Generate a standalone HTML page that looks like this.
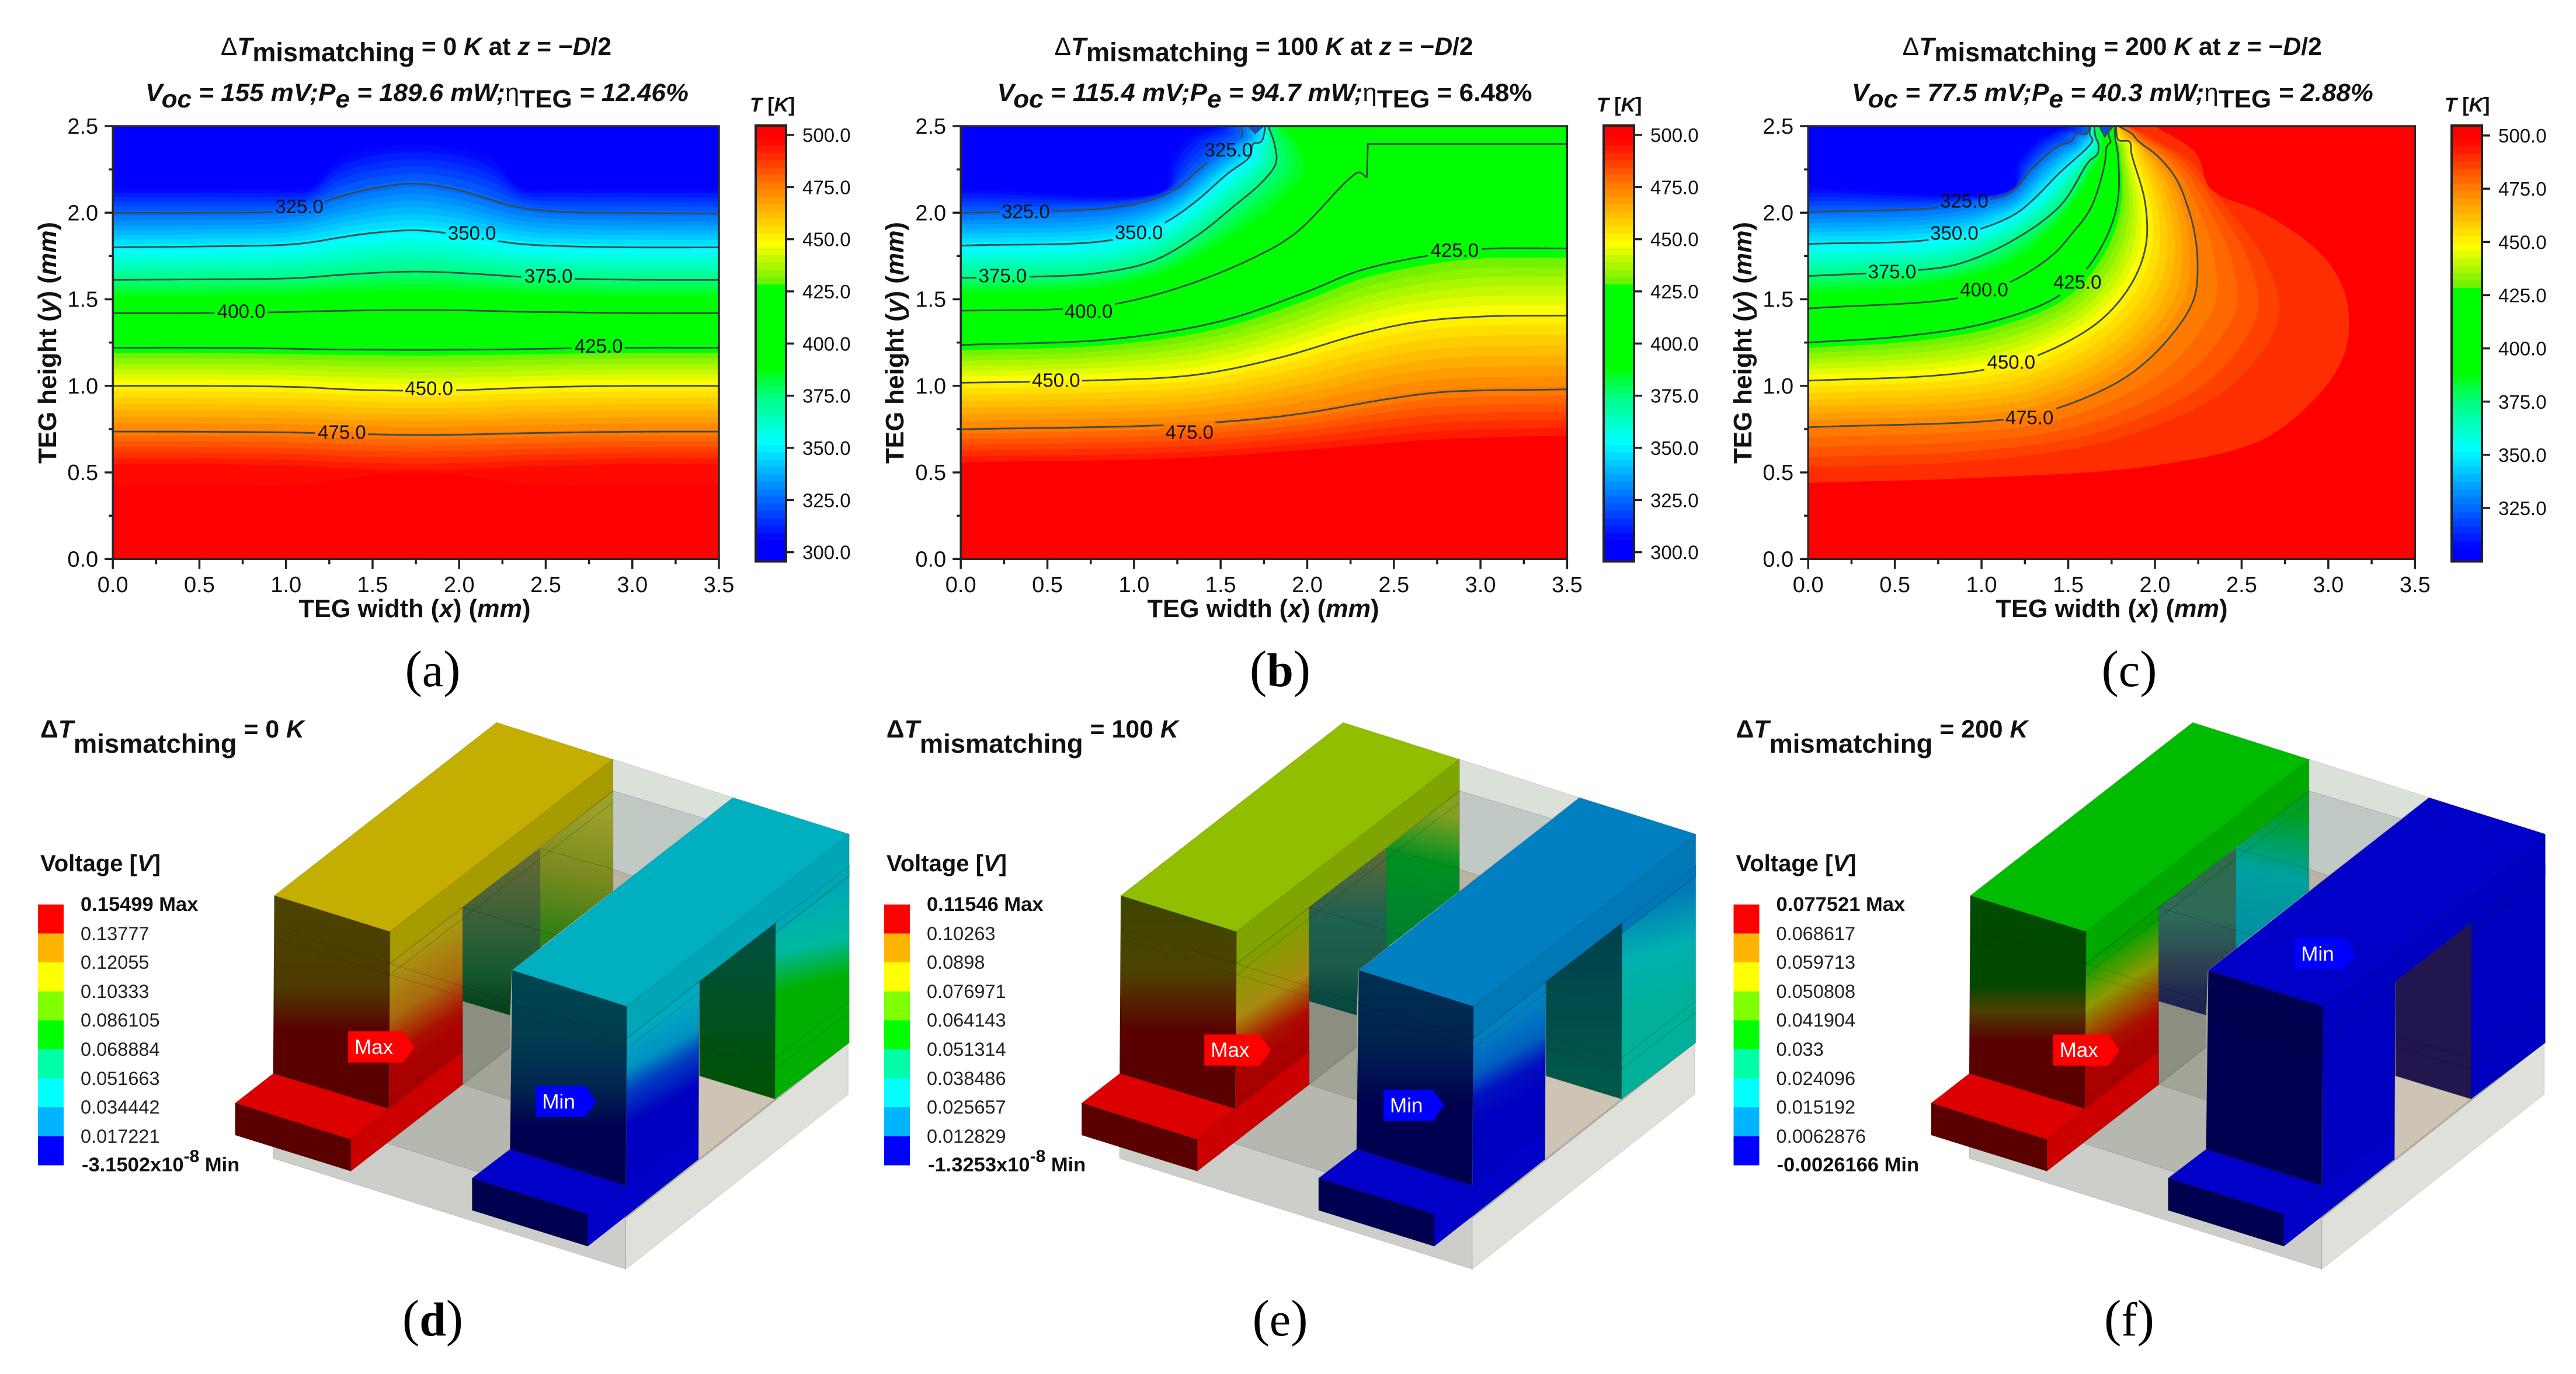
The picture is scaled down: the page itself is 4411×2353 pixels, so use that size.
<!DOCTYPE html>
<html lang="en">
<head>
<meta charset="utf-8">
<title>TEG temperature and voltage distributions</title>
<style>
html,body{margin:0;padding:0;background:#fff}
svg{display:block}
text{font-family:"Liberation Sans",sans-serif;fill:#111}
.b{font-weight:bold}
.i{font-style:italic}
.title{font-weight:bold;font-size:42.5px}
.axt{font-weight:bold;font-size:43.5px}
.tag{font-size:76px}
.cap{font-family:"Liberation Serif",serif;font-size:88px;fill:#000}
.leg{font-size:32.5px;fill:#222}
.legb{font-size:34.5px;font-weight:bold;fill:#111}
.vt{font-weight:bold;font-size:40px}
</style>
</head>
<body>
<svg id="figure" xmlns="http://www.w3.org/2000/svg" width="4411" height="2353" viewBox="0 0 4411 2353">
<defs id="defs"><rect id="unused" width="0" height="0"/></defs>
<rect width="4411" height="2353" fill="#fff"/>

<g id="panel-a"></g>
<g id="panel-b"></g>
<g id="panel-c"></g>

<g id="model-d" transform="matrix(0.9567,0,0,0.7526,0,1180)"></g>
<g id="model-e" transform="matrix(0.9567,0,0,0.7526,1449.5,1180)"></g>
<g id="model-f" transform="matrix(0.9567,0,0,0.7526,2904.2,1180)"></g>
<g id="overlays"></g>

<!-- Panel a titles -->
<text class="title" x="378" y="94" textLength="669" lengthAdjust="spacingAndGlyphs"><tspan font-weight="normal">Δ</tspan><tspan class="i">T</tspan><tspan dy="11" font-size="45">mismatching</tspan><tspan dy="-11"> = 0 </tspan><tspan class="i">K</tspan> at <tspan class="i">z</tspan> = −<tspan class="i">D</tspan>/2</text>
<text class="title" x="249" y="173" textLength="930" lengthAdjust="spacingAndGlyphs"><tspan class="i">V</tspan><tspan class="i" dy="11">oc</tspan><tspan class="i" dy="-11"> = 155 mV;P</tspan><tspan class="i" dy="11">e</tspan><tspan class="i" dy="-11"> = 189.6 mW;</tspan><tspan font-weight="normal">η</tspan><tspan dy="11">TEG</tspan><tspan class="i" dy="-11"> = 12.46%</tspan></text>
<text class="axt" text-anchor="middle" x="96" y="587" transform="rotate(-90 96 587)" textLength="414" lengthAdjust="spacingAndGlyphs">TEG height (<tspan class="i">y</tspan>) (<tspan class="i">mm</tspan>)</text>
<text class="axt" text-anchor="middle" x="710" y="1057" textLength="397" lengthAdjust="spacingAndGlyphs">TEG width (<tspan class="i">x</tspan>) (<tspan class="i">mm</tspan>)</text>
<text x="1284" y="191" font-size="34" font-weight="bold"><tspan class="i">T</tspan> [<tspan class="i">K</tspan>]</text>
<text class="cap" text-anchor="middle" x="741" y="1175">(<tspan font-size="82">a</tspan>)</text>

<!-- Panel b titles -->
<text class="title" x="1805.6" y="94" textLength="717" lengthAdjust="spacingAndGlyphs"><tspan font-weight="normal">Δ</tspan><tspan class="i">T</tspan><tspan dy="11" font-size="45">mismatching</tspan><tspan dy="-11"> = 100 </tspan><tspan class="i">K</tspan> at <tspan class="i">z</tspan> = −<tspan class="i">D</tspan>/2</text>
<text class="title" x="1707.5" y="173" textLength="916" lengthAdjust="spacingAndGlyphs"><tspan class="i">V</tspan><tspan class="i" dy="11">oc</tspan><tspan class="i" dy="-11"> = 115.4 mV;P</tspan><tspan class="i" dy="11">e</tspan><tspan class="i" dy="-11"> = 94.7 mW;</tspan><tspan font-weight="normal">η</tspan><tspan dy="11">TEG</tspan><tspan dy="-11"> = 6.48%</tspan></text>
<text class="axt" text-anchor="middle" x="1547" y="587" transform="rotate(-90 1547 587)" textLength="414" lengthAdjust="spacingAndGlyphs">TEG height (<tspan class="i">y</tspan>) (<tspan class="i">mm</tspan>)</text>
<text class="axt" text-anchor="middle" x="2163" y="1057" textLength="397" lengthAdjust="spacingAndGlyphs">TEG width (<tspan class="i">x</tspan>) (<tspan class="i">mm</tspan>)</text>
<text x="2734" y="191" font-size="34" font-weight="bold"><tspan class="i">T</tspan> [<tspan class="i">K</tspan>]</text>
<text class="cap" text-anchor="middle" x="2192" y="1175">(<tspan font-size="82" font-weight="bold">b</tspan>)</text>

<!-- Panel c titles -->
<text class="title" x="3257.8" y="94" textLength="718" lengthAdjust="spacingAndGlyphs"><tspan font-weight="normal">Δ</tspan><tspan class="i">T</tspan><tspan dy="11" font-size="45">mismatching</tspan><tspan dy="-11"> = 200 </tspan><tspan class="i">K</tspan> at <tspan class="i">z</tspan> = −<tspan class="i">D</tspan>/2</text>
<text class="title" x="3170.9" y="173" textLength="893" lengthAdjust="spacingAndGlyphs"><tspan class="i">V</tspan><tspan class="i" dy="11">oc</tspan><tspan class="i" dy="-11"> = 77.5 mV;P</tspan><tspan class="i" dy="11">e</tspan><tspan class="i" dy="-11"> = 40.3 mW;</tspan><tspan font-weight="normal">η</tspan><tspan dy="11">TEG</tspan><tspan class="i" dy="-11"> = 2.88%</tspan></text>
<text class="axt" text-anchor="middle" x="2999" y="587" transform="rotate(-90 2999 587)" textLength="414" lengthAdjust="spacingAndGlyphs">TEG height (<tspan class="i">y</tspan>) (<tspan class="i">mm</tspan>)</text>
<text class="axt" text-anchor="middle" x="3616" y="1057" textLength="397" lengthAdjust="spacingAndGlyphs">TEG width (<tspan class="i">x</tspan>) (<tspan class="i">mm</tspan>)</text>
<text x="4186" y="191" font-size="34" font-weight="bold"><tspan class="i">T</tspan> [<tspan class="i">K</tspan>]</text>
<text class="cap" text-anchor="middle" x="3646" y="1175">(<tspan font-size="82">c</tspan>)</text>

<!-- Panel d text -->
<text class="title" x="69" y="1263" textLength="452" lengthAdjust="spacingAndGlyphs">Δ<tspan class="i">T</tspan><tspan dy="26" font-size="45">mismatching</tspan><tspan dy="-26"> = 0 </tspan><tspan class="i">K</tspan></text>
<text class="vt" x="69" y="1492">Voltage [<tspan class="i">V</tspan>]</text>
<g>
<text class="legb" x="138" y="1560">0.15499 Max</text>
<text class="leg" x="138" y="1610">0.13777</text>
<text class="leg" x="138" y="1659">0.12055</text>
<text class="leg" x="138" y="1709">0.10333</text>
<text class="leg" x="138" y="1758">0.086105</text>
<text class="leg" x="138" y="1808">0.068884</text>
<text class="leg" x="138" y="1858">0.051663</text>
<text class="leg" x="138" y="1907">0.034442</text>
<text class="leg" x="138" y="1957">0.017221</text>
<text class="legb" x="140" y="2006">-3.1502x10<tspan dy="-16" font-size="30">-8</tspan><tspan dy="16"> Min</tspan></text>
</g>
<text class="cap" text-anchor="middle" x="741" y="2287">(<tspan font-size="82" font-weight="bold">d</tspan>)</text>

<!-- Panel e text -->
<text class="title" x="1517.8" y="1263" textLength="500" lengthAdjust="spacingAndGlyphs">Δ<tspan class="i">T</tspan><tspan dy="26" font-size="45">mismatching</tspan><tspan dy="-26"> = 100 </tspan><tspan class="i">K</tspan></text>
<text class="vt" x="1518" y="1492">Voltage [<tspan class="i">V</tspan>]</text>
<g>
<text class="legb" x="1587" y="1560">0.11546 Max</text>
<text class="leg" x="1587" y="1610">0.10263</text>
<text class="leg" x="1587" y="1659">0.0898</text>
<text class="leg" x="1587" y="1709">0.076971</text>
<text class="leg" x="1587" y="1758">0.064143</text>
<text class="leg" x="1587" y="1808">0.051314</text>
<text class="leg" x="1587" y="1858">0.038486</text>
<text class="leg" x="1587" y="1907">0.025657</text>
<text class="leg" x="1587" y="1957">0.012829</text>
<text class="legb" x="1589" y="2006">-1.3253x10<tspan dy="-16" font-size="30">-8</tspan><tspan dy="16"> Min</tspan></text>
</g>
<text class="cap" text-anchor="middle" x="2192" y="2287">(<tspan font-size="82">e</tspan>)</text>

<!-- Panel f text -->
<text class="title" x="2972.5" y="1263" textLength="500" lengthAdjust="spacingAndGlyphs">Δ<tspan class="i">T</tspan><tspan dy="26" font-size="45">mismatching</tspan><tspan dy="-26"> = 200 </tspan><tspan class="i">K</tspan></text>
<text class="vt" x="2972.5" y="1492">Voltage [<tspan class="i">V</tspan>]</text>
<g>
<text class="legb" x="3041.5" y="1560">0.077521 Max</text>
<text class="leg" x="3041.5" y="1610">0.068617</text>
<text class="leg" x="3041.5" y="1659">0.059713</text>
<text class="leg" x="3041.5" y="1709">0.050808</text>
<text class="leg" x="3041.5" y="1758">0.041904</text>
<text class="leg" x="3041.5" y="1808">0.033</text>
<text class="leg" x="3041.5" y="1858">0.024096</text>
<text class="leg" x="3041.5" y="1907">0.015192</text>
<text class="leg" x="3041.5" y="1957">0.0062876</text>
<text class="legb" x="3042.5" y="2006">-0.0026166 Min</text>
</g>
<text class="cap" text-anchor="middle" x="3646" y="2287">(<tspan font-size="82">f</tspan>)</text>
</svg>

<script>
// ---------- chart data (millimetres / kelvin) ----------
const xTickValues = [0, 0.5, 1, 1.5, 2, 2.5, 3, 3.5];
const yTickValues = [0, 0.5, 1, 1.5, 2, 2.5];
const xMinorTickValues = [0.25, 0.75, 1.25, 1.75, 2.25, 2.75, 3.25];
const yMinorTickValues = [0.25, 0.75, 1.25, 1.75, 2.25];
const barTicksAB = [500, 475, 450, 425, 400, 375, 350, 325, 300];
const barTicksC = [500, 475, 450, 425, 400, 375, 350, 325];

// Panel a: contour height at each width
const aWidths = [0, 0.5, 1, 1.15, 1.3, 1.5, 1.75, 2, 2.2, 2.35, 2.6, 3, 3.5];
const a306 = [2.14, 2.14, 2.14, 2.15, 2.30, 2.37, 2.39, 2.37, 2.30, 2.15, 2.14, 2.14, 2.14];
const a325 = [2.0, 2.0, 2.01, 2.04, 2.09, 2.14, 2.168, 2.13, 2.07, 2.03, 2.005, 2.0, 1.995];
const a350 = [1.80, 1.805, 1.815, 1.83, 1.855, 1.883, 1.898, 1.873, 1.84, 1.82, 1.807, 1.80, 1.80];
const a375 = [1.612, 1.615, 1.62, 1.628, 1.64, 1.652, 1.66, 1.652, 1.64, 1.63, 1.62, 1.613, 1.612];
const a400 = [1.42, 1.42, 1.426, 1.43, 1.433, 1.436, 1.437, 1.436, 1.432, 1.428, 1.425, 1.42, 1.42];
const a425 = [1.22, 1.22, 1.215, 1.212, 1.21, 1.209, 1.208, 1.209, 1.21, 1.212, 1.216, 1.22, 1.22];
const a450 = [1.0, 1.0, 0.995, 0.99, 0.982, 0.975, 0.972, 0.975, 0.982, 0.988, 0.995, 1.0, 1.0];
const a475 = [0.736, 0.735, 0.731, 0.728, 0.724, 0.72, 0.716, 0.718, 0.722, 0.726, 0.73, 0.735, 0.736];
const a496 = [0.54, 0.54, 0.53, 0.525, 0.515, 0.51, 0.505, 0.51, 0.515, 0.525, 0.53, 0.54, 0.54];
const a500 = [0.36, 0.36, 0.36, 0.38, 0.42, 0.47, 0.49, 0.47, 0.42, 0.38, 0.36, 0.36, 0.36];
const aLabels = [[325, 1.077, 2.036], [350, 2.074, 1.883], [375, 2.516, 1.635], [400, 0.742, 1.431], [425, 2.806, 1.231], [450, 1.826, 0.985], [475, 1.323, 0.733]];

// Panel b: contour points [x, y]
const b306 = [[0, 2.137], [1.18, 2.137], [1.21, 2.29], [1.32, 2.44], [1.5, 2.5]];
const b325 = [[0, 2.0], [0.525, 2.01], [0.875, 2.03], [1.1, 2.074], [1.24, 2.137], [1.406, 2.277], [1.55, 2.39], [1.62, 2.44], [1.62, 2.5]];
const b350 = [[0, 1.81], [0.875, 1.843], [1.16, 1.934], [1.35, 2.06], [1.54, 2.226], [1.67, 2.327], [1.686, 2.396], [1.734, 2.41], [1.76, 2.5]];
const b375 = [[0, 1.624], [0.4, 1.63], [0.78, 1.65], [1.1, 1.718], [1.35, 1.858], [1.575, 2.036], [1.75, 2.188], [1.82, 2.29], [1.81, 2.4], [1.775, 2.5]];
const b388 = [[0, 1.53], [0.78, 1.56], [1.2, 1.66], [1.6, 1.88], [1.85, 2.06], [2.0, 2.25], [1.95, 2.4], [1.85, 2.5]];
const b400 = [[0, 1.434], [0.59, 1.444], [0.875, 1.47], [1.257, 1.566], [1.67, 1.73], [1.93, 1.88], [2.24, 2.194], [2.30, 2.233], [2.344, 2.203]];
const b400Step = [[2.344, 2.203], [2.35, 2.397], [3.5, 2.397]];
const b425 = [[0, 1.236], [0.875, 1.27], [1.51, 1.376], [1.99, 1.54], [2.307, 1.667], [2.72, 1.756], [3.0, 1.79], [3.5, 1.794]];
const b450 = [[0, 1.018], [0.716, 1.03], [1.35, 1.063], [1.83, 1.16], [2.307, 1.3], [2.625, 1.368], [3.0, 1.40], [3.5, 1.406]];
const b475 = [[0, 0.749], [1.16, 0.772], [1.67, 0.805], [1.99, 0.843], [2.466, 0.924], [2.78, 0.964], [3.5, 0.98]];
const b496 = [[0, 0.55], [1.2, 0.57], [2.0, 0.62], [2.8, 0.68], [3.5, 0.70]];
const bPocket = [[1.66, 2.5], [1.70, 2.46], [1.745, 2.5]];
const bLabels = [[325, 0.375, 2.008], [325, 1.546, 2.363], [350, 1.028, 1.886], [375, 0.242, 1.637], [400, 0.738, 1.431], [425, 2.851, 1.784], [450, 0.55, 1.033], [475, 1.32, 0.733]];

// Panel c: contour points [x, y]
const c306 = [[0, 2.14], [1.18, 2.14], [1.2, 2.27], [1.32, 2.42], [1.5, 2.5]];
const c325 = [[0, 2.005], [0.76, 2.03], [1.03, 2.074], [1.174, 2.12], [1.292, 2.255], [1.44, 2.384], [1.518, 2.413], [1.545, 2.454], [1.607, 2.456], [1.62, 2.5]];
const c350 = [[0, 1.82], [0.697, 1.843], [1.0, 1.909], [1.19, 1.99], [1.292, 2.07], [1.45, 2.23], [1.618, 2.384], [1.64, 2.418], [1.623, 2.457], [1.63, 2.5]];
const c375 = [[0, 1.634], [0.62, 1.667], [0.87, 1.705], [1.19, 1.845], [1.46, 2.047], [1.618, 2.294], [1.669, 2.34], [1.674, 2.396], [1.657, 2.44], [1.65, 2.5]];
const c388 = [[0, 1.53], [0.7, 1.58], [1.19, 1.72], [1.45, 1.95], [1.62, 2.2], [1.7, 2.37], [1.7, 2.5]];
const c400 = [[0, 1.447], [0.87, 1.508], [1.174, 1.604], [1.41, 1.756], [1.522, 1.88], [1.629, 2.025], [1.708, 2.27], [1.724, 2.385], [1.745, 2.41], [1.735, 2.44], [1.73, 2.5]];
const c425 = [[0, 1.25], [0.554, 1.287], [1.03, 1.363], [1.43, 1.51], [1.6, 1.667], [1.73, 1.88], [1.787, 2.08], [1.787, 2.33], [1.77, 2.44], [1.77, 2.5]];
const c450 = [[0, 1.03], [0.713, 1.058], [1.03, 1.096], [1.317, 1.173], [1.667, 1.363], [1.858, 1.579], [1.947, 1.807], [1.943, 2.06], [1.865, 2.34], [1.854, 2.41], [1.79, 2.42], [1.775, 2.5]];
const c475 = [[0, 0.761], [1.126, 0.805], [1.413, 0.863], [1.826, 1.046], [2.08, 1.274], [2.224, 1.5], [2.246, 1.706], [2.229, 1.88], [2.19, 2.03], [2.124, 2.193], [2.02, 2.323], [1.905, 2.413], [1.865, 2.458], [1.79, 2.5]];
const c489 = [[0, 0.53], [1.0, 0.57], [1.8, 0.70], [2.4, 0.97], [2.65, 1.25], [2.72, 1.45], [2.62, 1.75], [2.4, 2.05], [2.2, 2.3], [2.0, 2.42], [1.85, 2.5]];
const c492 = [[0, 0.44], [1.0, 0.47], [1.985, 0.538], [2.62, 0.69], [2.94, 0.944], [3.08, 1.15], [3.12, 1.363], [3.08, 1.58], [2.94, 1.78], [2.62, 2.0], [2.32, 2.137], [2.24, 2.34], [2.0, 2.5]];
const cPocket = [[1.68, 2.5], [1.71, 2.44], [1.76, 2.5]];
const cLabels = [[325, 0.9, 2.069], [350, 0.843, 1.883], [375, 0.484, 1.66], [400, 1.015, 1.556], [425, 1.553, 1.599], [450, 1.171, 1.137], [475, 1.276, 0.817]];

// Colour scale stops of the temperature bar
const scaleTemps = [295, 306, 352.5, 375, 388.7, 428.4, 428.41, 448, 475, 496, 500, 505];
const scaleReds = [0, 0, 0, 0, 0, 0, 100, 255, 255, 255, 255, 255];
const scaleGreens = [0, 0, 255, 255, 255, 255, 240, 255, 127, 12, 0, 0];
const scaleBlues = [255, 255, 255, 128, 0, 0, 0, 0, 0, 0, 0, 0];

// Voltage legend colours
const legendColors = ['#ff0000', '#ffb400', '#ffff00', '#80ff00', '#00ff00', '#00ffa8', '#00ffff', '#00b4ff', '#0000ff'];

// ---------- helpers ----------
const NS = 'http://www.w3.org/2000/svg';
const BAND_STEP = 3.5;
const LINE_COLOR = '#3c4a4a';

function make(tag, parent) {
  const el = document.createElementNS(NS, tag);
  parent.appendChild(el);
  return el;
}

function colorAt(t) {
  let i = 0;
  while (i < scaleTemps.length - 2 && t > scaleTemps[i + 1]) i++;
  const f = Math.min(1, Math.max(0, (t - scaleTemps[i]) / (scaleTemps[i + 1] - scaleTemps[i])));
  const r = Math.round(scaleReds[i] + f * (scaleReds[i + 1] - scaleReds[i]));
  const g = Math.round(scaleGreens[i] + f * (scaleGreens[i + 1] - scaleGreens[i]));
  const b = Math.round(scaleBlues[i] + f * (scaleBlues[i + 1] - scaleBlues[i]));
  return 'rgb(' + r + ',' + g + ',' + b + ')';
}

function smooth(pts, n) {
  const out = [];
  const dist = (a, b) => Math.max(1e-6, Math.sqrt(Math.hypot(a[0] - b[0], a[1] - b[1])));
  const mix = (a, b, ta, tb, t) => [a[0] * (tb - t) / (tb - ta) + b[0] * (t - ta) / (tb - ta), a[1] * (tb - t) / (tb - ta) + b[1] * (t - ta) / (tb - ta)];
  for (let i = 0; i < pts.length - 1; i++) {
    const p1 = pts[i], p2 = pts[i + 1];
    const p0 = i > 0 ? pts[i - 1] : [2 * p1[0] - p2[0], 2 * p1[1] - p2[1]];
    const p3 = i + 2 < pts.length ? pts[i + 2] : [2 * p2[0] - p1[0], 2 * p2[1] - p1[1]];
    const t0 = 0, t1 = t0 + dist(p0, p1), t2 = t1 + dist(p1, p2), t3 = t2 + dist(p2, p3);
    for (let s = 0; s < n; s++) {
      const t = t1 + (t2 - t1) * s / n;
      const a1 = mix(p0, p1, t0, t1, t), a2 = mix(p1, p2, t1, t2, t), a3 = mix(p2, p3, t2, t3, t);
      const b1 = mix(a1, a2, t0, t2, t), b2 = mix(a2, a3, t1, t3, t);
      out.push(mix(b1, b2, t1, t2, t));
    }
  }
  out.push(pts[pts.length - 1]);
  return out;
}

function resample(pts, count) {
  const cum = [0];
  for (let i = 1; i < pts.length; i++) cum.push(cum[i - 1] + Math.hypot(pts[i][0] - pts[i - 1][0], pts[i][1] - pts[i - 1][1]));
  const total = cum[cum.length - 1];
  const out = [];
  let j = 0;
  for (let k = 0; k < count; k++) {
    const d = total * k / (count - 1);
    while (j < pts.length - 2 && cum[j + 1] < d) j++;
    const f = (d - cum[j]) / Math.max(1e-9, cum[j + 1] - cum[j]);
    out.push([pts[j][0] + f * (pts[j + 1][0] - pts[j][0]), pts[j][1] + f * (pts[j + 1][1] - pts[j][1])]);
  }
  return out;
}

function pair(widths, heights) {
  return widths.map((w, i) => [w, heights[i]]);
}

function drawTemperaturePanel(p) {
  const root = document.getElementById(p.id);
  const X = mm => p.left + mm * (p.right - p.left) / 3.5;
  const Y = mm => p.bottom - mm * (p.bottom - p.top) / 2.5;
  const str = pts => pts.map(q => X(q[0]).toFixed(1) + ',' + Y(q[1]).toFixed(1)).join(' ');

  const clip = make('clipPath', document.getElementById('defs'));
  clip.setAttribute('id', 'clip-' + p.id);
  const clipRect = make('rect', clip);
  clipRect.setAttribute('x', p.left);
  clipRect.setAttribute('y', p.top);
  clipRect.setAttribute('width', p.right - p.left);
  clipRect.setAttribute('height', p.bottom - p.top);

  const field = make('g', root);
  field.setAttribute('clip-path', 'url(#clip-' + p.id + ')');
  
  
  const base = make('rect', field);
  base.setAttribute('x', p.left);
  base.setAttribute('y', p.top);
  base.setAttribute('width', p.right - p.left);
  base.setAttribute('height', p.bottom - p.top);
  base.setAttribute('fill', '#0000ff');
  
  

  const keys = p.keys.map(k => ({ level: k[0], pts: resample(smooth(k[1], 10), 170) }));
  const lastLevel = keys[keys.length - 1].level;
  for (let L = keys[0].level; L <= lastLevel + 0.01; L += BAND_STEP) {
    let i = 0;
    while (i < keys.length - 2 && L >= keys[i + 1].level) i++;
    const f = Math.min(1, (L - keys[i].level) / (keys[i + 1].level - keys[i].level));
    const curve = keys[i].pts.map((q, n) => [q[0] + f * (keys[i + 1].pts[n][0] - q[0]), q[1] + f * (keys[i + 1].pts[n][1] - q[1])]);
    const end = curve[curve.length - 1];
    const closure = end[0] >= 3.499 ? [[3.5, 0], [0, 0]] : [[end[0], 2.5], [3.5, 2.5], [3.5, 0], [0, 0]];
    const isLastBand = L + BAND_STEP > lastLevel + 0.01;
    const band = make('polygon', field);
    band.setAttribute('points', str(curve.concat(closure)));
    band.setAttribute('fill', isLastBand ? colorAt(500) : colorAt(L + BAND_STEP / 2));
    
    
  }
  if (p.pocket) {
    const pocket = make('polygon', field);
    pocket.setAttribute('points', str(p.pocket));
    pocket.setAttribute('fill', '#0050ff');
    pocket.setAttribute('stroke', LINE_COLOR);
    pocket.setAttribute('stroke-width', '2.5');
    
    
  }

  // contour lines, broken around their labels
  const boxes = p.labels.map(l => ({ level: l[0], x: X(l[1]), y: Y(l[2]) }));
  p.lines.forEach(line => {
    const level = line[0];
    const pts = line[2] ? line[1] : smooth(line[1], 10);
    const myBoxes = boxes.filter(b => b.level === level);
    let run = [];
    const flush = () => {
      if (run.length > 1) {
        const seg = make('polyline', field);
        seg.setAttribute('points', str(run));
        seg.setAttribute('fill', 'none');
        seg.setAttribute('stroke', LINE_COLOR);
        seg.setAttribute('stroke-width', '2.8');
        seg.setAttribute('stroke-linejoin', 'miter');
        
        
      }
      run = [];
    };
    const dense = line[2] ? line[1] : resample(pts, 400);
    dense.forEach(q => {
      const inside = myBoxes.some(b => Math.abs(X(q[0]) - b.x) < 44 && Math.abs(Y(q[1]) - b.y) < 21);
      if (inside) flush(); else run.push(q);
    });
    flush();
  });
  boxes.forEach(b => {
    const t = make('text', root);
    t.textContent = b.level.toFixed(1);
    t.setAttribute('x', b.x);
    t.setAttribute('y', b.y + 11.5);
    t.setAttribute('text-anchor', 'middle');
    t.setAttribute('font-size', '33');
    
    
  });

  // frame
  const frame = make('rect', root);
  frame.setAttribute('x', p.left);
  frame.setAttribute('y', p.top);
  frame.setAttribute('width', p.right - p.left);
  frame.setAttribute('height', p.bottom - p.top);
  frame.setAttribute('fill', 'none');
  frame.setAttribute('stroke', '#2a2a2a');
  frame.setAttribute('stroke-width', '3.5');
  
  

  const tick = (x1, y1, x2, y2, name) => {
    const l = make('line', root);
    l.setAttribute('x1', x1);
    l.setAttribute('y1', y1);
    l.setAttribute('x2', x2);
    l.setAttribute('y2', y2);
    l.setAttribute('stroke', '#222');
    l.setAttribute('stroke-width', '3.5');
    
    
  };
  xTickValues.forEach(v => {
    tick(X(v), p.bottom, X(v), p.bottom + 17, 'x-tick');
    const t = make('text', root);
    t.textContent = v.toFixed(1);
    t.setAttribute('x', X(v));
    t.setAttribute('y', 1014);
    t.setAttribute('text-anchor', 'middle');
    t.setAttribute('font-size', '38');
    
    
  });
  xMinorTickValues.forEach(v => tick(X(v), p.bottom, X(v), p.bottom + 9, 'x-minor-tick'));
  yTickValues.forEach(v => {
    tick(p.left, Y(v), p.left - 14, Y(v), 'y-tick');
    const t = make('text', root);
    t.textContent = v.toFixed(1);
    t.setAttribute('x', p.left - 25);
    t.setAttribute('y', Y(v) + 13);
    t.setAttribute('text-anchor', 'end');
    t.setAttribute('font-size', '38');
    
    
  });
  yMinorTickValues.forEach(v => tick(p.left, Y(v), p.left - 7, Y(v), 'y-minor-tick'));

  // colour bar
  const barTop = 215, barBottom = 961.5;
  const BY = t => p.bar500 + (500 - t) * p.barScale;
  const tMin = 500 - (barBottom - p.bar500) / p.barScale;
  const tMax = 500 + (p.bar500 - barTop) / p.barScale;
  const bar = make('g', root);
  
  
  for (let L = 306 - BAND_STEP * 4; L < tMax; L += BAND_STEP) {
    const hi = Math.min(L + BAND_STEP, tMax);
    const lo = Math.max(L, tMin);
    if (hi <= lo) continue;
    const r = make('rect', bar);
    r.setAttribute('x', p.barLeft);
    r.setAttribute('y', BY(hi));
    r.setAttribute('width', 52);
    r.setAttribute('height', BY(lo) - BY(hi) + 0.6);
    r.setAttribute('fill', colorAt(L + BAND_STEP / 2));
    
    
  }
  const barFrame = make('rect', root);
  barFrame.setAttribute('x', p.barLeft);
  barFrame.setAttribute('y', barTop);
  barFrame.setAttribute('width', 52);
  barFrame.setAttribute('height', barBottom - barTop);
  barFrame.setAttribute('fill', 'none');
  barFrame.setAttribute('stroke', '#222');
  barFrame.setAttribute('stroke-width', '4');
  
  
  p.barTicks.forEach(v => {
    tick(p.barLeft + 52, BY(v), p.barLeft + 66, BY(v), 'colorbar-tick');
    const t = make('text', root);
    t.textContent = v.toFixed(1);
    t.setAttribute('x', p.barLeft + 80);
    t.setAttribute('y', BY(v) + 12);
    t.setAttribute('font-size', '33');
    t.setAttribute('fill', '#222');
    
    
  });
}

drawTemperaturePanel({
  id: 'panel-a', left: 193.2, right: 1231, top: 216, bottom: 957.3,
  barLeft: 1294, bar500: 231, barScale: 3.573, barTicks: barTicksAB,
  keys: [[306, pair(aWidths, a306)], [325, pair(aWidths, a325)], [350, pair(aWidths, a350)], [375, pair(aWidths, a375)], [400, pair(aWidths, a400)], [425, pair(aWidths, a425)], [450, pair(aWidths, a450)], [475, pair(aWidths, a475)], [496, pair(aWidths, a496)], [500, pair(aWidths, a500)]],
  lines: [[325, pair(aWidths, a325)], [350, pair(aWidths, a350)], [375, pair(aWidths, a375)], [400, pair(aWidths, a400)], [425, pair(aWidths, a425)], [450, pair(aWidths, a450)], [475, pair(aWidths, a475)]],
  labels: aLabels
});
drawTemperaturePanel({
  id: 'panel-b', left: 1645.2, right: 2683.4, top: 216, bottom: 957.3,
  barLeft: 2746, bar500: 231, barScale: 3.573, barTicks: barTicksAB, pocket: bPocket,
  keys: [[306, b306], [325, b325], [350, b350], [375, b375], [388, b388], [425, b425], [450, b450], [475, b475], [496, b496]],
  lines: [[325, b325], [350, b350], [375, b375], [400, b400], [400, b400Step, true], [425, b425], [450, b450], [475, b475]],
  labels: bLabels
});
drawTemperaturePanel({
  id: 'panel-c', left: 3096.2, right: 4135.3, top: 216, bottom: 957.3,
  barLeft: 4198, bar500: 232, barScale: 3.646, barTicks: barTicksC, pocket: cPocket,
  keys: [[306, c306], [325, c325], [350, c350], [375, c375], [388, c388], [425, c425], [450, c450], [474, c475], [488, c489], [491.5, c492]],
  lines: [[325, c325], [350, c350], [375, c375], [400, c400], [425, c425], [450, c450], [475, c475]],
  labels: cLabels
});

// ---------- 3D voltage models ----------
const models = {
  d: {
    top: '#c4ae00', side: '#a69c00',
    front: [[470, '#4d4400'], [680, '#4d3a00'], [780, '#5a0000'], [955, '#5a0000']],
    leg: [[0, '#a89a10'], [0.5, '#a86a10'], [0.825, '#aa1000'], [1, '#aa0000']],
    arch: [[362, '#6a6a35'], [520, '#3c6038'], [640, '#155a30'], [690, '#0e4a25'], [742, '#004018']],
    wall: [[0, '#9aa028'], [0.5, '#7a8a20'], [1, '#2f8015']],
    rTop: '#00afc0', rSide: '#00a6b6',
    rLeg: [[0, '#00a8c0'], [0.35, '#0090c0'], [0.6, '#0040c0'], [1, '#0000c0']],
    rFront: [[640, '#00474f'], [800, '#003c50'], [900, '#002850'], [1000, '#000050'], [1130, '#000050']],
    rBack: [[532, '#004f45'], [933, '#005200']],
    rOuter: [[0, '#00a8b4'], [0.45, '#00b8a0'], [0.8, '#00b000'], [1, '#00b000']]
  },
  e: {
    top: '#92be00', side: '#80a500',
    front: [[470, '#3c4600'], [640, '#4d4300'], [780, '#5a0000'], [955, '#5a0000']],
    leg: [[0, '#80a000'], [0.5, '#a88a10'], [0.825, '#aa1000'], [1, '#aa0000']],
    arch: [[362, '#606a35'], [520, '#206050'], [640, '#1a5a48'], [690, '#0e4a40'], [742, '#004a40']],
    wall: [[0, '#84a020'], [0.4, '#009020'], [1, '#008030']],
    rTop: '#0080c0', rSide: '#0078b8',
    rLeg: [[0, '#0080c0'], [0.4, '#0060c0'], [0.7, '#0010c0'], [1, '#0000c0']],
    rFront: [[640, '#003050'], [800, '#002450'], [950, '#000050'], [1130, '#000050']],
    rBack: [[532, '#00404f'], [933, '#005a48']],
    rOuter: [[0, '#0078b8'], [0.5, '#00b0b0'], [1, '#00b098']]
  },
  f: {
    top: '#00bc00', side: '#00a800',
    front: [[470, '#004c00'], [670, '#004800'], [730, '#4a4000'], [800, '#5a0000'], [955, '#5a0000']],
    leg: [[0, '#00a000'], [0.4, '#8a9a00'], [0.825, '#aa1000'], [1, '#aa0000']],
    arch: [[362, '#2e6a48'], [520, '#2e6a58'], [640, '#2c3c50'], [690, '#202850'], [742, '#1c2050']],
    wall: [[0, '#00a020'], [0.5, '#00a0a0'], [1, '#0090a0']],
    rTop: '#0000c8', rSide: '#0000c0',
    rLeg: [[0, '#0000c0'], [1, '#0000c0']],
    rFront: [[640, '#000050'], [1130, '#000050']],
    rBack: [[532, '#22164f'], [933, '#22164f']],
    rOuter: [[0, '#0000c0'], [1, '#0000c0']]
  }
};

function gradient(id, x1, y1, x2, y2, stops) {
  const g = make('linearGradient', document.getElementById('defs'));
  g.setAttribute('id', id);
  g.setAttribute('gradientUnits', 'userSpaceOnUse');
  g.setAttribute('x1', x1);
  g.setAttribute('y1', y1);
  g.setAttribute('x2', x2);
  g.setAttribute('y2', y2);
  const lo = stops[0][0], hi = stops[stops.length - 1][0];
  stops.forEach(s => {
    const st = make('stop', g);
    st.setAttribute('offset', (s[0] - lo) / (hi - lo));
    st.setAttribute('stop-color', s[1]);
  });
  return 'url(#' + id + ')';
}

function face(parent, pts, fill, name) {
  const el = make('polygon', parent);
  el.setAttribute('points', pts.map(q => q.join(',')).join(' '));
  el.setAttribute('fill', fill);
  el.setAttribute('stroke', 'rgba(0,0,0,0.14)');
  el.setAttribute('stroke-width', '1.2');
  
  
}

const layerLines = [
  [491, 545, 698, 625], [491, 568, 698, 650], [698, 625, 916, 712], [698, 650, 828, 700],
  [698, 625, 1097, 232], [698, 650, 1097, 258], [828, 497, 1000, 562], [966, 362, 1097, 410],
  [915, 715, 1122, 795], [915, 738, 1122, 818], [1122, 795, 1252, 665], [1122, 818, 1252, 690],
  [1252, 790, 1387, 840], [1252, 815, 1387, 865], [1387, 840, 1520, 710], [1387, 865, 1520, 735],
  [1388, 532, 1520, 403], [1388, 555, 1520, 425], [489, 860, 696, 940], [696, 940, 828, 810]
];

function drawModel(key) {
  const m = models[key];
  const g = document.getElementById('model-' + key);
  const id = s => 'grad-' + key + '-' + s;
  // substrate
  face(g, [[887, 554], [1518, 806], [1120, 1204], [489, 952]], '#b6b7af', 'substrate-top');
  face(g, [[489, 952], [1120, 1204], [1120, 1320], [489, 1068]], '#cdcec9', 'substrate-front');
  face(g, [[1120, 1204], [1518, 806], [1518, 922], [1120, 1320]], '#e0e0da', 'substrate-side');
  face(g, [[828, 710], [913, 742], [913, 815], [828, 900]], '#8b8e80', 'floor-shadow');
  face(g, [[828, 900], [913, 815], [913, 935]], '#a2a498', 'floor-shade');
  face(g, [[1250, 880], [1387, 933], [1250, 1070]], '#cdc4b5', 'floor-right');
  // back plate
  face(g, [[1097, 160], [1312, 247], [1262, 295], [1097, 232]], '#d9e1d9', 'back-plate-top');
  face(g, [[1097, 232], [1262, 295], [1133, 425], [1097, 410]], '#c1c9c5', 'back-plate-wall');
  face(g, [[1097, 410], [1133, 425], [1097, 460]], '#b8b3a3', 'back-plate-floor');
  // left block inner faces
  face(g, [[828, 497], [966, 362], [966, 590], [916, 640], [913, 742], [828, 710]], gradient(id('arch'), 0, 362, 0, 742, m.arch), 'left-arch-wall');
  face(g, [[966, 362], [1097, 232], [1097, 460], [994, 562], [966, 590]], gradient(id('wall'), 1060, 280, 990, 560, m.wall), 'left-back-wall');
  // left block
  face(g, [[698, 552], [828, 425], [828, 900], [696, 1030]], gradient(id('leg'), 573, 720, 698, 877, m.leg), 'left-leg-side');
  face(g, [[698, 552], [1097, 160], [1097, 232], [828, 497], [698, 625]], m.side, 'left-beam-side');
  face(g, [[491, 470], [698, 552], [696, 955], [489, 875]], gradient(id('front'), 0, 470, 0, 955, m.front), 'left-leg-front');
  face(g, [[889, 76], [1097, 160], [698, 552], [491, 470]], m.top, 'left-beam-top');
  // red foot
  face(g, [[696, 955], [828, 825], [828, 900], [628, 1097], [628, 1025]], '#cc0000', 'left-foot-side');
  face(g, [[489, 875], [696, 955], [628, 1025], [421, 942]], '#dc0000', 'left-foot-top');
  face(g, [[421, 942], [628, 1025], [628, 1097], [421, 1015]], '#5a0000', 'left-foot-front');
  // right block, back leg
  face(g, [[1252, 665], [1388, 532], [1388, 933], [1252, 880]], gradient(id('rback'), 0, 532, 0, 933, m.rBack), 'right-back-leg-inner');
  face(g, [[1388, 532], [1520, 400], [1520, 805], [1387, 933]], gradient(id('router'), 1400, 480, 1470, 720, m.rOuter), 'right-back-leg-side');
  // right block, front leg
  face(g, [[1122, 722], [1252, 595], [1250, 1070], [1120, 1200]], gradient(id('rleg'), 754, 1059.5, 846.8, 1189.9, m.rLeg), 'right-leg-side');
  face(g, [[1122, 722], [1520, 330], [1520, 425], [1388, 555], [1388, 532], [1252, 665], [1122, 795]], m.rSide, 'right-beam-side');
  face(g, [[917, 640], [1122, 722], [1120, 1130], [913, 1047]], gradient(id('rfront'), 0, 640, 0, 1130, m.rFront), 'right-leg-front');
  face(g, [[1312, 247], [1520, 330], [1122, 722], [917, 640]], m.rTop, 'right-beam-top');
  // blue foot
  face(g, [[1120, 1130], [1250, 1000], [1250, 1070], [1052, 1268], [1052, 1195]], '#0000c8', 'right-foot-side');
  face(g, [[913, 1047], [1120, 1130], [1052, 1195], [845, 1113]], '#0000c8', 'right-foot-top');
  face(g, [[845, 1113], [1052, 1195], [1052, 1268], [845, 1186]], '#000050', 'right-foot-front');
  layerLines.forEach(s => {
    const l = make('line', g);
    l.setAttribute('x1', s[0]);
    l.setAttribute('y1', s[1]);
    l.setAttribute('x2', s[2]);
    l.setAttribute('y2', s[3]);
    l.setAttribute('stroke', 'rgba(0,0,0,0.2)');
    l.setAttribute('stroke-width', '1.4');
    
    
  });
}
drawModel('d');
drawModel('e');
drawModel('f');

// ---------- voltage legends and Max / Min tags ----------
const overlays = document.getElementById('overlays');
const legendLefts = [65, 1514, 2968.5];
legendLefts.forEach(left => {
  legendColors.forEach((c, i) => {
    const r = make('rect', overlays);
    r.setAttribute('x', left);
    r.setAttribute('y', 1549 + i * 49.6);
    r.setAttribute('width', 44);
    r.setAttribute('height', 49.8);
    r.setAttribute('fill', c);
    
    
  });
});

function drawTag(word, x, y, fill, bodyW, tipW) {
  const h = 53.4;
  const el = make('polygon', overlays);
  el.setAttribute('points', [[x, y], [x + bodyW, y], [x + tipW, y + h / 2], [x + bodyW, y + h], [x, y + h]].map(q => q.join(',')).join(' '));
  el.setAttribute('fill', fill);
  
  
  const t = make('text', overlays);
  t.textContent = word;
  t.setAttribute('x', x + 11);
  t.setAttribute('y', y + h / 2 + 12);
  t.setAttribute('font-size', '35');
  t.setAttribute('style', 'fill:#fff');
  
  
}
drawTag('Max', 596, 1766.2, '#ff0000', 94.7, 113.8);
drawTag('Max', 2062.3, 1771.5, '#ff0000', 94.7, 113.8);
drawTag('Max', 3515.6, 1771.5, '#ff0000', 94.7, 113.8);
drawTag('Min', 917.4, 1859.6, '#0000ff', 85, 104);
drawTag('Min', 2369, 1866.3, '#0000ff', 85, 104);
drawTag('Min', 3929.3, 1606.7, '#0000ff', 85, 104);
</script>
</body>
</html>
